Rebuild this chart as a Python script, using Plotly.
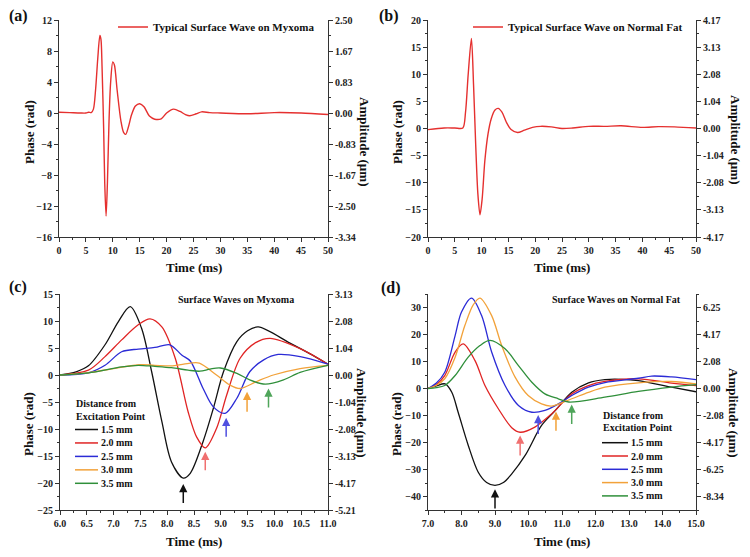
import plotly.graph_objects as go

# The page places the figure 8 px in from the top-left corner of the window, so the figure is
# sized to fit inside the 750x557 window and every layout position is expressed in window pixels.
WIN_W, WIN_H, OFF = 750, 557, 8
W, H = WIN_W - 2 * OFF, WIN_H - 2 * OFF
FONT = "Liberation Serif"
AX = "#333333"

# ---------------- data ----------------
# (a) typical surface wave on myxoma
a_time = [0, 2, 4, 5, 5.5, 6.0, 6.4, 6.8, 7.2, 7.6, 7.8, 8.0, 8.3, 8.5, 8.75, 9.0, 9.3, 9.6, 10.0,
          10.3, 10.8, 11.5, 12.0, 12.4, 12.9, 13.5, 14.2, 15.0, 15.8, 16.8, 17.8, 19.0, 20.0, 21.3,
          22.5, 23.5, 24.3, 25.5, 26.5, 28, 30, 35, 40, 45, 50]
a_phase = [0.1, 0.05, 0.0, 0.0, 0.1, 0.05, 0.5, 3.0, 7.0, 10.0, 9.5, 6.0, -2.0, -9.0, -13.3, -9.0,
           -1.0, 4.0, 6.6, 6.2, 3.0, -1.0, -2.5, -2.75, -1.8, -0.2, 0.9, 1.2, 0.8, -0.4, -0.8, -0.75,
           0.0, 0.5, 0.2, -0.2, -0.35, -0.1, 0.15, 0.05, 0.0, -0.1, 0.05, 0.0, -0.2]

# (b) typical surface wave on normal fat
b_time = [0, 3, 5, 6.5, 7.0, 7.5, 8.1, 8.5, 8.9, 9.3, 9.7, 10.1, 10.6, 11.2, 11.8, 12.5, 13.1, 13.8,
          14.6, 15.5, 16.7, 18, 19.5, 21, 23, 25, 27, 30, 33, 36, 40, 43, 46, 50]
b_phase = [-0.2, 0.1, 0.1, 0.1, 3.0, 10.0, 16.6, 8.0, -3.0, -12.0, -15.9, -13.0, -6.0, -1.0, 1.8,
           3.4, 3.7, 3.0, 1.2, -0.2, -0.75, -0.3, 0.2, 0.4, 0.3, 0.0, 0.1, 0.4, 0.4, 0.5, 0.2, 0.35,
           0.3, 0.1]

dist_labels = ["1.5 mm", "2.0 mm", "2.5 mm", "3.0 mm", "3.5 mm"]

# (c) surface waves on myxoma
c_t_15 = [6.0, 6.3, 6.53, 6.84, 7.09, 7.31, 7.52, 7.71, 7.90, 8.08, 8.30, 8.43, 8.67, 8.86, 9.05,
          9.30, 9.5, 9.70, 10.29, 10.65, 11.0]
c_v_15 = [0.0, 0.6, 1.7, 5.6, 9.9, 12.65, 8.7, 0.6, -8.6, -16.1, -19.1, -18.2, -12.3, -6.2, 0.6,
          6.2, 8.2, 8.9, 5.9, 4.0, 2.0]
c_t_20 = [6.0, 6.53, 6.84, 7.15, 7.46, 7.68, 7.90, 8.15, 8.39, 8.55, 8.71, 8.92, 9.11, 9.36, 9.65,
          9.92, 10.48, 11.0]
c_v_20 = [0.0, 0.9, 3.4, 6.5, 9.3, 10.4, 8.9, 3.1, -6.8, -11.5, -13.5, -9.9, -3.7, 3.1, 6.0, 6.8,
          4.9, 2.0]
c_t_25 = [6.0, 6.53, 6.84, 7.15, 7.46, 7.77, 8.05, 8.27, 8.43, 8.67, 8.86, 9.08, 9.30, 9.54, 9.8,
          10.07, 10.48, 11.0]
c_v_25 = [0.0, 0.4, 1.8, 4.3, 4.8, 5.1, 5.6, 3.7, 2.6, -2.5, -5.9, -7.1, -4.3, 0.6, 2.8, 3.8, 3.4,
          2.0]
c_t_30 = [6.0, 6.5, 7.0, 7.5, 7.77, 8.1, 8.43, 8.6, 8.92, 9.17, 9.36, 9.67, 9.98, 10.48, 11.0]
c_v_30 = [0.0, 0.4, 1.2, 1.9, 1.8, 1.7, 2.2, 2.2, 0.0, -1.85, -2.5, -1.2, 0.0, 1.2, 1.8]
c_t_35 = [6.0, 6.53, 7.15, 7.46, 7.77, 8.08, 8.39, 8.61, 8.8, 8.99, 9.30, 9.54, 9.83, 10.17, 10.48,
          11.0]
c_v_35 = [0.0, 0.4, 1.5, 1.8, 1.6, 1.35, 0.9, 0.7, 1.1, 1.3, 0.3, -0.9, -1.7, -0.9, 0.5, 1.8]

# (d) surface waves on normal fat
d_t_15 = [7.0, 7.25, 7.51, 7.71, 7.9, 8.2, 8.5, 8.75, 9.0, 9.25, 9.5, 9.9, 10.39, 10.79, 11.29,
          11.79, 12.28, 12.8, 13.28, 14.27, 15.0]
d_v_15 = [0.0, 1.0, 1.7, -1.4, -8.8, -21.0, -31.0, -34.8, -35.9, -34.8, -31.6, -24.8, -13.7, -8.3,
          -1.4, 2.1, 3.3, 3.4, 2.9, 0.5, -1.2]
d_t_20 = [7.0, 7.25, 7.5, 7.81, 8.05, 8.4, 8.7, 9.1, 9.5, 9.75, 10.19, 10.69, 11.29, 11.79, 12.28,
          13.28, 14.27, 15.0]
d_v_20 = [0.0, 1.5, 4.8, 13.5, 16.5, 10.4, 1.1, -7.5, -14.5, -16.2, -14.3, -9.4, -2.0, 1.1, 2.6,
          3.6, 2.0, 1.1]
d_t_25 = [7.0, 7.25, 7.5, 7.81, 8.0, 8.3, 8.6, 8.9, 9.3, 9.7, 10.1, 10.49, 10.89, 11.29, 11.79,
          12.28, 13.28, 13.68, 14.27, 15.0]
d_v_25 = [0.0, 2.0, 6.0, 19.6, 28.3, 33.5, 27.0, 13.5, 1.1, -6.3, -8.8, -8.1, -5.7, -2.6, 0.5, 2.2,
          3.8, 4.6, 4.3, 3.3]
d_t_30 = [7.0, 7.25, 7.5, 7.81, 8.1, 8.35, 8.55, 8.9, 9.2, 9.6, 9.99, 10.39, 10.69, 11.29, 11.79,
          12.28, 13.28, 14.27, 15.0]
d_v_30 = [0.0, 1.2, 3.6, 11.6, 23.3, 31.0, 33.5, 27.0, 15.9, 4.2, -2.6, -5.7, -6.5, -3.8, -1.4,
          0.5, 2.1, 2.6, 1.7]
d_t_35 = [7.0, 7.25, 7.5, 7.81, 8.2, 8.55, 8.85, 9.3, 9.7, 10.1, 10.49, 10.89, 11.2, 12.28, 13.28,
          14.27, 15.0]
d_v_35 = [0.0, 0.3, 1.1, 4.8, 11.6, 15.9, 17.8, 14.7, 8.5, 2.3, -2.0, -3.8, -5.0, -3.2, -1.1, 0.5,
          1.4]

# trough-marking arrows: time, tip phase, tail phase
c_arrow_t = [8.30, 8.71, 9.10, 9.49, 9.89]
c_arrow_tip = [-20.2, -14.2, -7.9, -3.1, -2.5]
c_arrow_tail = [-24.0, -17.9, -11.7, -7.1, -6.3]
d_arrow_t = [9.0, 9.75, 10.29, 10.82, 11.29]
d_arrow_tip = [-37.3, -17.4, -9.8, -8.5, -5.9]
d_arrow_tail = [-45.0, -25.4, -17.4, -16.2, -13.7]

# right-hand amplitude axes (µm): tick positions on the phase scale and their labels
a_amp_pos = [12, 8, 4, 0, -4, -8, -12, -16]
a_amp_lab = ["2.50", "1.67", "0.83", "0.00", "-0.83", "-1.67", "-2.50", "-3.34"]
b_amp_pos = [20, 15, 10, 5, 0, -5, -10, -15, -20]
b_amp_lab = ["4.17", "3.13", "2.08", "1.04", "0.00", "-1.04", "-2.08", "-3.13", "-4.17"]
c_amp_pos = [15, 10, 5, 0, -5, -10, -15, -20, -25]
c_amp_lab = ["3.13", "2.08", "1.04", "0.00", "-1.04", "-2.08", "-3.13", "-4.17", "-5.21"]
d_amp_pos = [30, 20, 10, 0, -10, -20, -30, -40]
d_amp_lab = ["6.25", "4.17", "2.08", "0.00", "-2.08", "-4.17", "-6.25", "-8.34"]

# ---------------- style ----------------
RED_MAIN = "#e5302f"
COLORS = ["#111111", "#e02424", "#2b2bd6", "#f2a23a", "#2f8f3a"]
ARROW_COLORS = ["#111111", "#f07070", "#5050e0", "#f2a23a", "#4fa55a"]
TXT = "#111111"


def fx(px):
    return (px - OFF) / W


def fy(py):
    return 1 - (py - OFF) / H


tickfont = dict(family=FONT, size=10, color="#222222", weight="bold")
fig = go.Figure()

panels = {
    "a": dict(xa="x", ya="y", ya2="y2", px=(59, 328), py=(20, 237)),
    "b": dict(xa="x2", ya="y3", ya2="y4", px=(428, 696), py=(20, 237)),
    "c": dict(xa="x3", ya="y5", ya2="y6", px=(60, 328), py=(294, 510)),
    "d": dict(xa="x4", ya="y7", ya2="y8", px=(428, 696), py=(294, 510)),
}

# ---- traces ----
fig.add_trace(go.Scatter(x=a_time, y=a_phase, xaxis="x", yaxis="y", mode="lines",
                         name="Typical Surface Wave on Myxoma", legend="legend",
                         line=dict(color=RED_MAIN, width=1.4, shape="spline", smoothing=0.8)))
fig.add_trace(go.Scatter(x=b_time, y=b_phase, xaxis="x2", yaxis="y3", mode="lines",
                         name="Typical Surface Wave on Normal Fat", legend="legend2",
                         line=dict(color=RED_MAIN, width=1.4, shape="spline", smoothing=0.8)))

c_series = [(c_t_15, c_v_15), (c_t_20, c_v_20), (c_t_25, c_v_25), (c_t_30, c_v_30), (c_t_35, c_v_35)]
d_series = [(d_t_15, d_v_15), (d_t_20, d_v_20), (d_t_25, d_v_25), (d_t_30, d_v_30), (d_t_35, d_v_35)]
for i, (t, v) in enumerate(c_series):
    fig.add_trace(go.Scatter(x=t, y=v, xaxis="x3", yaxis="y5", mode="lines", name=dist_labels[i],
                             showlegend=False,
                             line=dict(color=COLORS[i], width=1.3, shape="spline", smoothing=0.9)))
for i, (t, v) in enumerate(d_series):
    fig.add_trace(go.Scatter(x=t, y=v, xaxis="x4", yaxis="y7", mode="lines", name=dist_labels[i],
                             showlegend=False,
                             line=dict(color=COLORS[i], width=1.3, shape="spline", smoothing=0.9)))

# invisible companions so the amplitude axes are drawn
for key, (t, v) in zip("abcd", [(a_time, a_phase), (b_time, b_phase), (c_t_15, c_v_15), (d_t_15, d_v_15)]):
    p = panels[key]
    fig.add_trace(go.Scatter(x=t, y=v, xaxis=p["xa"], yaxis=p["ya2"], mode="lines",
                             line=dict(width=0, color="rgba(0,0,0,0)"), showlegend=False,
                             hoverinfo="skip"))


# ---- axes ----
def xaxis_cfg(p, anchor, rng, dtick, minor_dtick, fmt):
    return dict(domain=[fx(p["px"][0]), fx(p["px"][1])], anchor=anchor, range=rng, dtick=dtick,
                tick0=rng[0], tickformat=fmt, showline=True, linecolor=AX, linewidth=1,
                ticks="outside", ticklen=4, tickcolor=AX, tickfont=tickfont, showgrid=False,
                zeroline=False, automargin=False,
                minor=dict(ticks="outside", ticklen=2, dtick=minor_dtick, tick0=rng[0],
                           tickcolor=AX))


def yaxis_cfg(p, anchor, rng, dtick, minor_dtick):
    return dict(domain=[fy(p["py"][1]), fy(p["py"][0])], anchor=anchor, range=rng, dtick=dtick,
                tick0=0, showline=True, linecolor=AX, linewidth=1, ticks="outside", ticklen=4,
                tickcolor=AX, tickfont=tickfont, showgrid=False, zeroline=False, automargin=False,
                minor=dict(ticks="outside", ticklen=2, dtick=minor_dtick, tick0=0, tickcolor=AX))


def yaxis2_cfg(anchor, overlay, rng, pos, lab, minor_dtick):
    return dict(overlaying=overlay, anchor=anchor, side="right", range=rng, tickmode="array",
                tickvals=pos, ticktext=lab, showline=True, linecolor=AX, linewidth=1,
                ticks="outside", ticklen=4, tickcolor=AX, tickfont=tickfont, showgrid=False,
                zeroline=False, automargin=False,
                minor=dict(ticks="outside", ticklen=2, dtick=minor_dtick, tick0=0, tickcolor=AX))


A, B, C, D = panels["a"], panels["b"], panels["c"], panels["d"]
fig.update_layout(
    xaxis=xaxis_cfg(A, "y", [0, 50], 5, 2.5, "d"),
    yaxis=yaxis_cfg(A, "x", [-16, 12], 4, 2),
    yaxis2=yaxis2_cfg("x", "y", [-16, 12], a_amp_pos, a_amp_lab, 2),
    xaxis2=xaxis_cfg(B, "y3", [0, 50], 5, 2.5, "d"),
    yaxis3=yaxis_cfg(B, "x2", [-20, 20], 5, 2.5),
    yaxis4=yaxis2_cfg("x2", "y3", [-20, 20], b_amp_pos, b_amp_lab, 2.5),
    xaxis3=xaxis_cfg(C, "y5", [6, 11], 0.5, 0.25, ".1f"),
    yaxis5=yaxis_cfg(C, "x3", [-25, 15], 5, 2.5),
    yaxis6=yaxis2_cfg("x3", "y5", [-25, 15], c_amp_pos, c_amp_lab, 2.5),
    xaxis4=xaxis_cfg(D, "y7", [7, 15], 1, 0.5, ".1f"),
    yaxis7=yaxis_cfg(D, "x4", [-45, 35], 10, 5),
    yaxis8=yaxis2_cfg("x4", "y7", [-45, 35], d_amp_pos, d_amp_lab, 5),
)

# ---- arrows ----
ann = []
for (ts, tips, tails, xr, yr) in [(c_arrow_t, c_arrow_tip, c_arrow_tail, "x3", "y5"),
                                  (d_arrow_t, d_arrow_tip, d_arrow_tail, "x4", "y7")]:
    for i in range(5):
        ann.append(dict(x=ts[i], y=tips[i], ax=ts[i], ay=tails[i], xref=xr, yref=yr, axref=xr,
                        ayref=yr, text="", showarrow=True, arrowhead=2, arrowsize=1.1,
                        arrowwidth=1.5, arrowcolor=ARROW_COLORS[i]))


def text_ann(txt, px, py, size, angle=0, anchor="center"):
    return dict(text=txt, x=fx(px), y=fy(py), xref="paper", yref="paper", showarrow=False,
                textangle=angle, xanchor=anchor, yanchor="middle", borderpad=0,
                font=dict(family=FONT, size=size, color=TXT, weight="bold"))


# panel labels
ann += [text_ann("(a)", 18, 16, 16), text_ann("(b)", 389, 16, 16),
        text_ann("(c)", 18, 287, 16), text_ann("(d)", 391, 288, 16)]
# axis titles
ann += [text_ann("Phase (rad)", 29, 132, 13, -90), text_ann("Phase (rad)", 397, 132, 13, -90),
        text_ann("Phase (rad)", 28, 424, 13, -90), text_ann("Phase (rad)", 396, 424, 13, -90)]
ann += [text_ann("Amplitude (µm)", 365, 141, 13, 90), text_ann("Amplitude (µm)", 735, 139, 13, 90),
        text_ann("Amplitude (µm)", 362, 412, 13, 90), text_ann("Amplitude (µm)", 734, 412, 13, 90)]
ann += [text_ann("Time (ms)", 194, 267, 13), text_ann("Time (ms)", 562, 267, 13),
        text_ann("Time (ms)", 194, 541, 13), text_ann("Time (ms)", 562, 541, 13)]
# in-panel captions
ann += [text_ann("Surface Waves on Myxoma", 236, 299, 10),
        text_ann("Surface Waves on Normal Fat", 616, 299, 10)]

# compact legends for (c) and (d): title lines, then one line sample + label per distance
shapes = []
for (x_line0, x_line1, x_text, title_y, row_y0, row_dy) in [(75, 98, 100, 403, 429.5, 13.45),
                                                             (602, 628, 630, 415, 442.7, 13.3)]:
    ann.append(text_ann("Distance from", x_line0, title_y, 10, anchor="left"))
    ann.append(text_ann("Excitation Point", x_line0, title_y + 13, 10, anchor="left"))
    for i, lab in enumerate(dist_labels):
        yy = row_y0 + i * row_dy
        shapes.append(dict(type="line", xref="paper", yref="paper", x0=fx(x_line0), x1=fx(x_line1),
                           y0=fy(yy), y1=fy(yy), line=dict(color=COLORS[i], width=1.5)))
        ann.append(text_ann(lab, x_text, yy, 10, anchor="left"))

legfont = dict(family=FONT, size=11, color=TXT, weight="bold")
fig.update_layout(
    width=W, height=H, margin=dict(l=0, r=0, t=0, b=0, autoexpand=False),
    paper_bgcolor="white", plot_bgcolor="white",
    font=dict(family=FONT, size=10, color="#222222", weight="bold"),
    annotations=ann, shapes=shapes,
    legend=dict(x=fx(113), y=fy(27), xanchor="left", yanchor="middle", bgcolor="rgba(0,0,0,0)",
                font=legfont),
    legend2=dict(x=fx(468), y=fy(27), xanchor="left", yanchor="middle", bgcolor="rgba(0,0,0,0)",
                 font=legfont),
    showlegend=True,
)

fig.write_html("out.html")
